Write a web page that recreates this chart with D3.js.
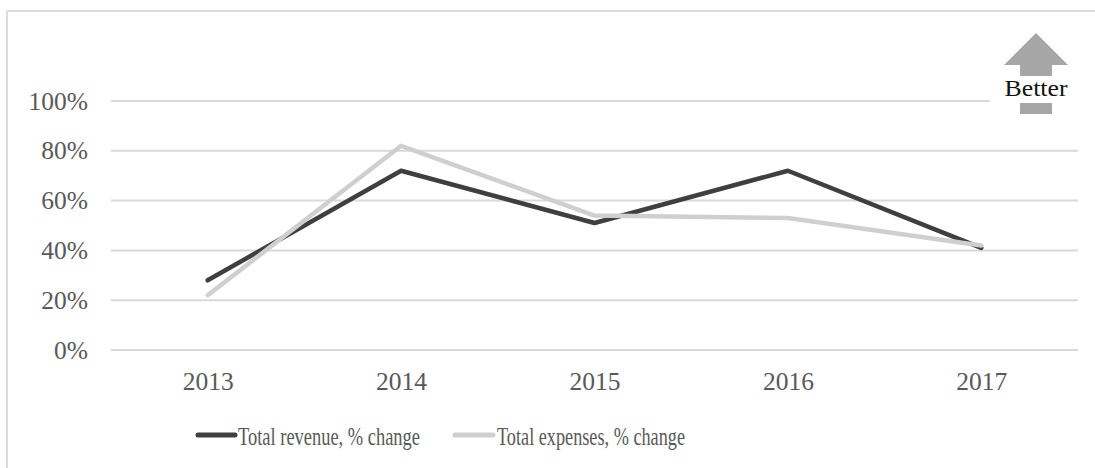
<!DOCTYPE html>
<html>
<head>
<meta charset="utf-8">
<script src="https://cdn.jsdelivr.net/npm/d3@7"></script>
<style>
  html, body { margin: 0; padding: 0; background: #fff; }
  svg { display: block; }
  text { font-family: "Liberation Serif", "Times New Roman", serif; }
</style>
</head>
<body>
<svg id="chart" width="1095" height="468"></svg>
<script>
// Year-over-year change, in percent
const years = ["2013", "2014", "2015", "2016", "2017"];
const revenueChange = [28, 72, 51, 72, 41];
const expensesChange = [22, 82, 54, 53, 42];
const yTicks = [0, 20, 40, 60, 80, 100];
const seriesNames = ["Total revenue, % change", "Total expenses, % change"];
const seriesColors = ["#3f3f3f", "#cfcfcf"];

const svg = d3.select("#chart");
const W = 1095, H = 468;

// outer frame (top and left edges visible)
svg.append("rect")
  .attr("x", 7).attr("y", 11)
  .attr("width", W + 10).attr("height", H + 10)
  .attr("fill", "#fff")
  .attr("stroke", "#dcdcdc").attr("stroke-width", 2);

const x = d3.scalePoint().domain(years).range([111, 1078]).padding(0.5);
const y = d3.scaleLinear().domain([0, 100]).range([350, 101]);

// gridlines
svg.append("g")
  .selectAll("line")
  .data(yTicks)
  .join("line")
  .attr("x1", 111).attr("x2", 1078)
  .attr("y1", d => y(d)).attr("y2", d => y(d))
  .attr("stroke", "#d9d9d9").attr("stroke-width", 2);

// y-axis labels
const yAxis = d3.axisLeft(y).tickValues(yTicks).tickFormat(d => d + "%").tickSize(0).tickPadding(0);
const gy = svg.append("g").attr("transform", "translate(88,0)").call(yAxis);
gy.select(".domain").remove();
gy.selectAll("text")
  .attr("font-family", "Liberation Serif, serif")
  .attr("font-size", 25.5)
  .attr("fill", "#595959");

// x-axis labels
const xAxis = d3.axisBottom(x).tickSize(0).tickPadding(0);
const gx = svg.append("g").attr("transform", "translate(0,372)").call(xAxis);
gx.select(".domain").remove();
gx.selectAll("text")
  .attr("font-family", "Liberation Serif, serif")
  .attr("font-size", 25.5)
  .attr("fill", "#595959");

// series lines
const line = d3.line().x((d, i) => x(years[i])).y(d => y(d));
[revenueChange, expensesChange].forEach((vals, k) => {
  svg.append("path")
    .datum(vals)
    .attr("d", line)
    .attr("fill", "none")
    .attr("stroke", seriesColors[k])
    .attr("stroke-width", 4.5)
    .attr("stroke-linejoin", "round")
    .attr("stroke-linecap", "round");
});

// "Better" indicator
const ind = svg.append("g");
ind.append("rect").attr("x", 990).attr("y", 28).attr("width", 88).attr("height", 92).attr("fill", "#fff");
ind.append("path")
  .attr("d", "M1036,33 L1068,65 L1052,65 L1052,76 L1020,76 L1020,65 L1004,65 Z")
  .attr("fill", "#a6a6a6");
ind.append("text")
  .attr("x", 1036).attr("y", 96)
  .attr("text-anchor", "middle")
  .attr("font-size", 23)
  .attr("textLength", 63).attr("lengthAdjust", "spacingAndGlyphs")
  .attr("fill", "#111")
  .text("Better");
ind.append("rect").attr("x", 1020).attr("y", 103).attr("width", 32).attr("height", 11).attr("fill", "#a6a6a6");

// legend
const legendItems = [
  { x1: 198, x2: 235, tx: 238, tw: 182 },
  { x1: 455, x2: 493, tx: 497, tw: 188 }
];
const lg = svg.append("g");
legendItems.forEach((it, k) => {
  lg.append("line")
    .attr("x1", it.x1).attr("x2", it.x2)
    .attr("y1", 435).attr("y2", 435)
    .attr("stroke", seriesColors[k]).attr("stroke-width", 5)
    .attr("stroke-linecap", "round");
  lg.append("text")
    .attr("x", it.tx).attr("y", 445)
    .attr("font-size", 26)
    .attr("textLength", it.tw).attr("lengthAdjust", "spacingAndGlyphs")
    .attr("fill", "#595959")
    .text(seriesNames[k]);
});
</script>
</body>
</html>
